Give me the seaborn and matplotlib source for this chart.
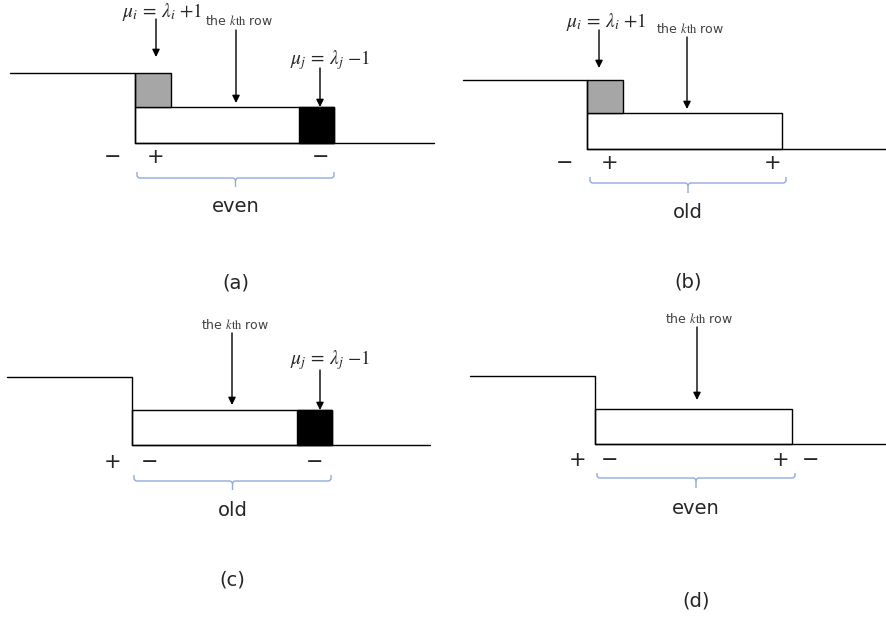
import numpy as np
import seaborn as sns
import matplotlib.pyplot as plt
from matplotlib.patches import Rectangle, PathPatch
from matplotlib.path import Path

sns.set_theme(style='white')
plt.rcParams['font.family'] = ['DejaVu Sans']
plt.rcParams['mathtext.fontset'] = 'stix'

# diagram geometry (pixel units of the 886x618 canvas, y grows downwards)
captions = ['(a)', '(b)', '(c)', '(d)']
parity = ['even', 'old', 'old', 'even']
step_left = [10, 463, 7, 470]
step_x = [135, 587, 132, 595]
row_end = [334, 782, 332, 792]
right_end = [434, 886, 430, 886]
upper_y = [73, 80, 377, 376]
row_top = [107, 113, 410, 409]
row_bottom = [143, 149, 445, 444]
has_gray = [True, True, False, False]
has_black = [True, False, True, False]
box_w = 35

sign_text = [['−', '+', '−'], ['−', '+', '+'], ['+', '−', '−'], ['+', '−', '+', '−']]
sign_x = [[113, 156, 321], [565, 610, 773], [113, 150, 315], [578, 610, 781, 811]]
sign_y = [157, 163, 462, 460]

# arrows: (label, label x, label y, arrow x, arrow start, arrow tip)
arrows = [
    [('mu_i', 162, 12, 156, 19, 57), ('kth', 239, 21, 236, 30, 103), ('mu_j', 330, 60, 320, 68, 107)],
    [('mu_i', 606, 22, 599, 30, 68), ('kth', 690, 29, 687, 37, 109)],
    [('kth', 235, 325, 232, 333, 405), ('mu_j', 330, 360, 320, 370, 410)],
    [('kth', 699, 319, 697, 327, 400)],
]
label_text = {
    'mu_i': r'$\mu_i\,=\,\lambda_i\ {+}1$',
    'mu_j': r'$\mu_j\,=\,\lambda_j\ {-}1$',
    'kth': r'the $k\mathrm{th}$ row',
}

brace_x0 = [137, 590, 134, 597]
brace_x1 = [334, 786, 331, 795]
brace_top = [172, 177, 475, 473]
brace_mid = [178, 183, 481, 478]
brace_tip = [187, 193, 490, 488]
parity_y = [207, 213, 510, 508]
caption_y = [283, 282, 580, 601]

fig = plt.figure(figsize=(8.86, 6.18), dpi=100)
ax = fig.add_axes([0, 0, 1, 1])
ax.set_xlim(0, 886)
ax.set_ylim(618, 0)
ax.axis('off')

brace_col = '#8FAADC'

for p in range(4):
    # staircase outline
    ax.plot([step_left[p], step_x[p], step_x[p]], [upper_y[p], upper_y[p], row_bottom[p]],
            color='black', lw=1)
    ax.plot([step_x[p], right_end[p]], [row_bottom[p], row_bottom[p]], color='black', lw=1)
    ax.add_patch(Rectangle((step_x[p], row_top[p]), row_end[p] - step_x[p],
                           row_bottom[p] - row_top[p], facecolor='white', edgecolor='black', lw=1))
    if has_gray[p]:
        ax.add_patch(Rectangle((step_x[p], upper_y[p]), box_w + 1, row_top[p] - upper_y[p],
                               facecolor='#A6A6A6', edgecolor='black', lw=1))
    if has_black[p]:
        ax.add_patch(Rectangle((row_end[p] - box_w, row_top[p]), box_w,
                               row_bottom[p] - row_top[p], facecolor='black', edgecolor='black', lw=1))

    for kind, lx, ly, axx, y0, y1 in arrows[p]:
        if kind == 'kth':
            ax.text(lx, ly, label_text[kind], fontsize=9, color='#404040', ha='center', va='center')
        else:
            ax.text(lx, ly, label_text[kind], fontsize=14, color='#262626', ha='center', va='center')
        ax.annotate('', xy=(axx, y1), xytext=(axx, y0),
                    arrowprops=dict(arrowstyle='-|>', color='black', lw=1,
                                    mutation_scale=11, shrinkA=0, shrinkB=0))

    for t, sx in zip(sign_text[p], sign_x[p]):
        ax.text(sx, sign_y[p], t, fontsize=15, color='#262626', ha='center', va='center')

    # curly brace under the row
    x0, x1 = brace_x0[p], brace_x1[p]
    xc = (x0 + x1) / 2
    yt, ym, yb = brace_top[p], brace_mid[p], brace_tip[p]
    r = 3
    verts = [(x0, yt), (x0, ym - r), (x0, ym), (x0 + r, ym), (xc - r, ym), (xc, ym), (xc, ym + r),
             (xc, yb)]
    codes = [Path.MOVETO, Path.LINETO, Path.CURVE3, Path.CURVE3, Path.LINETO, Path.CURVE3,
             Path.CURVE3, Path.LINETO]
    ax.add_patch(PathPatch(Path(verts, codes), facecolor='none', edgecolor=brace_col, lw=1))
    verts = [(x1, yt), (x1, ym - r), (x1, ym), (x1 - r, ym), (xc + r, ym), (xc, ym), (xc, ym + r)]
    codes = [Path.MOVETO, Path.LINETO, Path.CURVE3, Path.CURVE3, Path.LINETO, Path.CURVE3,
             Path.CURVE3]
    ax.add_patch(PathPatch(Path(verts, codes), facecolor='none', edgecolor=brace_col, lw=1))

    ax.text(xc, parity_y[p], parity[p], fontsize=14, color='#262626', ha='center', va='center')
    ax.text(xc, caption_y[p], captions[p], fontsize=14, color='#262626', ha='center', va='center')

fig.savefig('out.png', dpi=100, facecolor='white')
